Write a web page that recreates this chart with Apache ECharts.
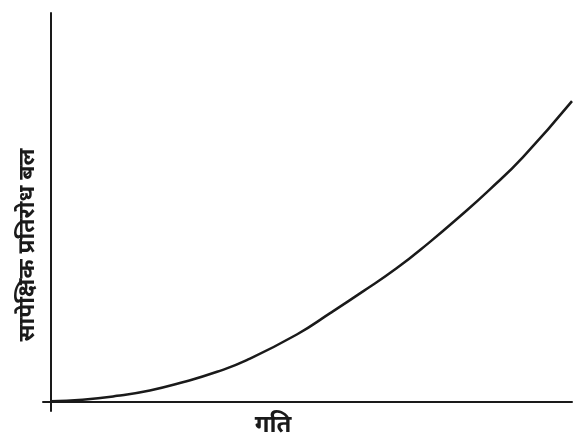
<!DOCTYPE html>
<html><head><meta charset="utf-8">
<script src="https://cdn.jsdelivr.net/npm/echarts@6/dist/echarts.min.js"></script>
<style>html,body{margin:0;padding:0;background:#fff}#c{width:576px;height:436px}</style>
</head><body><div id="c"></div>
<script>
var speed = [0, 6.1, 12.7, 19.0, 25.3, 31.9, 37.6, 47.2, 53.6, 59.9, 66.4, 72.7, 78.3, 84.1, 90.6, 100];
var force = [0, 0.4, 1.4, 2.8, 4.9, 7.6, 10.6, 17.2, 22.7, 28.3, 34.3, 41.0, 47.4, 54.4, 62.9, 77.3];
var xLabel = 'गति';
var yLabel = 'सापेक्षिक प्रतिरोध बल';
var data = speed.map(function(v, i){ return [v, force[i]]; });
var chart = echarts.init(document.getElementById('c'));
chart.setOption({
  animation: false,
  grid: {left: 43, right: 4, top: 13, bottom: 25},
  xAxis: {type: 'value', min: -1.5, max: 100, axisLine: {onZero: true, lineStyle: {color: '#1a1a1a', width: 2}},
    axisTick: {show: false}, axisLabel: {show: false}, splitLine: {show: false}},
  yAxis: {type: 'value', min: -2.5, max: 100, axisLine: {show: true, onZero: true, lineStyle: {color: '#1a1a1a', width: 2}},
    axisTick: {show: false}, axisLabel: {show: false}, splitLine: {show: false}},
  series: [{type: 'line', data: data, smooth: 0.5, showSymbol: false,
    lineStyle: {color: '#1a1a1a', width: 2.5}}],
  graphic: [
    {type: 'text', x: 273, y: 425, style: {text: xLabel, font: 'italic bold 24px "Noto Sans", sans-serif', fill: '#1a1a1a', align: 'center', verticalAlign: 'middle'}},
    {type: 'text', x: 27, y: 245, rotation: Math.PI/2, style: {text: yLabel, font: 'italic bold 23px "Noto Sans", sans-serif', fill: '#1a1a1a', align: 'center', verticalAlign: 'middle'}}
  ]
});
</script></body></html>
